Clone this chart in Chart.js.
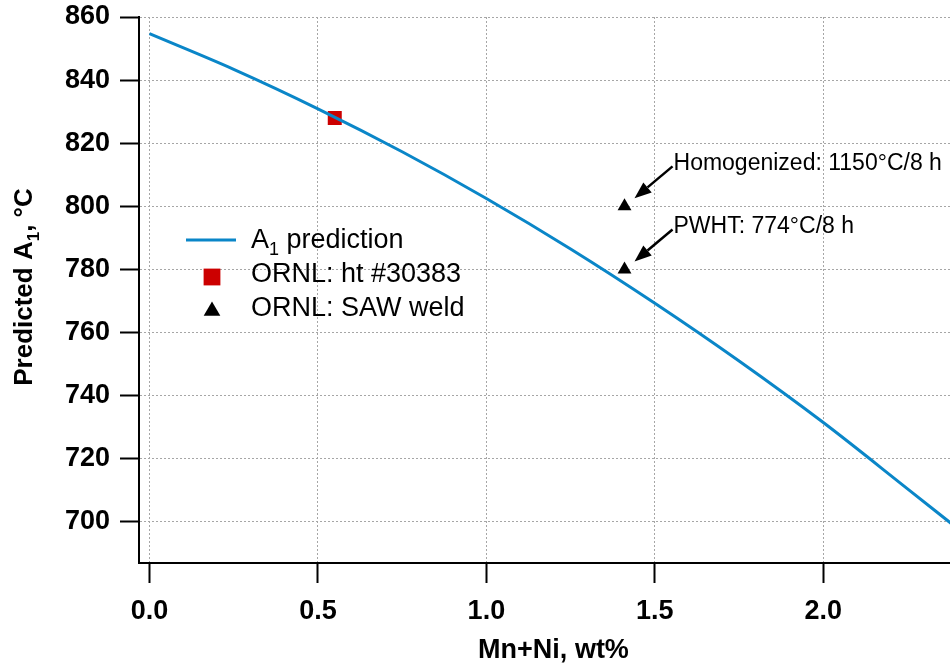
<!DOCTYPE html>
<html>
<head>
<meta charset="utf-8">
<script src="https://cdn.jsdelivr.net/npm/chart.js@4.4.1/dist/chart.umd.min.js"></script>
<style>
    html, body { margin: 0; padding: 0; background: #fff; }
    #wrap { position: relative; width: 950px; height: 667px; }
</style>
</head>
<body>
<div id="wrap"><canvas id="a1Chart"></canvas></div>
<script>
// A1 prediction curve
const CURVE_X = [0, 0.25, 0.5, 0.75, 1.0, 1.25, 1.5, 1.75, 2.0, 2.25, 2.38];
const CURVE_Y = [854.7, 843.4, 830.9, 817.3, 802.5, 786.5, 769.3, 751.0, 731.5, 710.5, 699.5];

// ORNL measurements
const HEAT_X = [0.55];
const HEAT_Y = [828];
const WELD_X = [1.41, 1.41];
const WELD_Y = [800, 780];
const WELD_NOTES = ['Homogenized: 1150°C/8 h', 'PWHT: 774°C/8 h'];

const SERIES_LABELS = ['A_{1} prediction', 'ORNL: ht #30383', 'ORNL: SAW weld'];

const X_TICKS = [0, 0.5, 1.0, 1.5, 2.0];
const Y_TICKS = [700, 720, 740, 760, 780, 800, 820, 840, 860];
const X_RANGE = [-0.031, 2.376];
const Y_RANGE = [687, 860];

const X_TITLE = 'Mn+Ni, wt%';
const Y_TITLE = 'Predicted A_{1}, °C';

const FONT = "'Liberation Sans', Arial, Helvetica, sans-serif";
const BLUE = '#0a86c8';
const RED = '#cc0000';

const toPoints = (xs, ys) => xs.map((x, i) => ({ x, y: ys[i] }));

// split 'A_{1} x' into plain / subscript parts
const richParts = (str) => str.split(/(_\{[^}]*\})/).filter(Boolean)
    .map(s => s.startsWith('_{') ? { t: s.slice(2, -1), sub: true } : { t: s, sub: false });

const richWidth = (ctx, str, size, weight) => {
    let w = 0;
    richParts(str).forEach(p => {
        ctx.font = `${weight} ${p.sub ? Math.round(size * 0.65) : size}px ${FONT}`;
        w += ctx.measureText(p.t).width;
    });
    return w;
};

const drawRich = (ctx, str, x, y, size, weight) => {
    let cx = x;
    ctx.textAlign = 'left';
    ctx.textBaseline = 'alphabetic';
    richParts(str).forEach(p => {
        ctx.font = `${weight} ${p.sub ? Math.round(size * 0.65) : size}px ${FONT}`;
        ctx.fillText(p.t, cx, p.sub ? y + size * 0.27 : y);
        cx += ctx.measureText(p.t).width;
    });
};

const drawMarker = (ctx, style, x, y, r, color) => {
    ctx.fillStyle = color;
    ctx.beginPath();
    if (style === 'rect') {
        const s = r * Math.SQRT1_2;
        ctx.rect(x - s, y - s, 2 * s, 2 * s);
    } else {
        ctx.moveTo(x, y - r);
        ctx.lineTo(x + r * 0.866, y + r * 0.5);
        ctx.lineTo(x - r * 0.866, y + r * 0.5);
        ctx.closePath();
    }
    ctx.fill();
};

// axis titles (with subscript)
const titlesPlugin = {
    id: 'titles',
    afterDraw(chart) {
        const { ctx, chartArea: ca } = chart;
        ctx.save();
        ctx.fillStyle = '#000';
        const xw = richWidth(ctx, X_TITLE, 27, 'bold');
        drawRich(ctx, X_TITLE, (ca.left + ca.right) / 2 + 9 - xw / 2, 658, 27, 'bold');

        const yw = richWidth(ctx, Y_TITLE, 26, 'bold');
        ctx.translate(32, (ca.top + ca.bottom) / 2 - 3);
        ctx.rotate(-Math.PI / 2);
        drawRich(ctx, Y_TITLE, -yw / 2, 0, 26, 'bold');
        ctx.restore();
    }
};

// arrows + notes for the weld points
const notesPlugin = {
    id: 'notes',
    afterDatasetsDraw(chart) {
        const { ctx, scales: { x, y } } = chart;
        ctx.save();
        ctx.fillStyle = '#000';
        ctx.strokeStyle = '#000';
        WELD_NOTES.forEach((note, i) => {
            const px = x.getPixelForValue(WELD_X[i]);
            const py = y.getPixelForValue(WELD_Y[i]);
            const tail = { x: px + 48, y: py - 40 };
            const tip = { x: px + 10, y: py - 8 };
            const ang = Math.atan2(tip.y - tail.y, tip.x - tail.x);
            const len = 17, half = 6.5;
            const bx = tip.x - len * Math.cos(ang), by = tip.y - len * Math.sin(ang);

            ctx.lineWidth = 2.5;
            ctx.beginPath();
            ctx.moveTo(tail.x, tail.y);
            ctx.lineTo(bx, by);
            ctx.stroke();

            ctx.beginPath();
            ctx.moveTo(tip.x, tip.y);
            ctx.lineTo(bx + half * Math.sin(ang), by - half * Math.cos(ang));
            ctx.lineTo(bx - half * Math.sin(ang), by + half * Math.cos(ang));
            ctx.closePath();
            ctx.fill();

            drawRich(ctx, note, px + 49, py - 36, 23, 'normal');
        });
        ctx.restore();
    }
};

// legend inside the plot
const legendPlugin = {
    id: 'insideLegend',
    afterDatasetsDraw(chart) {
        const { ctx, chartArea: ca } = chart;
        const left = ca.left + 47;
        const textX = ca.left + 112;
        const baseline0 = ca.top + 231;
        const rowH = 34;
        ctx.save();
        chart.data.datasets.forEach((ds, i) => {
            const base = baseline0 + i * rowH;
            const cx = left + 26;
            if (ds.showLine) {
                const cy = base - 8;
                ctx.strokeStyle = ds.borderColor;
                ctx.lineWidth = ds.borderWidth;
                ctx.beginPath();
                ctx.moveTo(left, cy);
                ctx.lineTo(left + 50, cy);
                ctx.stroke();
            } else {
                drawMarker(ctx, ds.pointStyle, cx, base - 5, ds.pointRadius * 1.2, ds.backgroundColor);
            }
            ctx.fillStyle = '#000';
            drawRich(ctx, ds.label, textX, base, 27, 'normal');
        });
        ctx.restore();
    }
};

const tickFont = { family: FONT, size: 27, weight: 'bold' };

new Chart(document.getElementById('a1Chart'), {
    type: 'scatter',
    data: {
        datasets: [{
            label: SERIES_LABELS[0],
            data: toPoints(CURVE_X, CURVE_Y),
            showLine: true,
            borderColor: BLUE,
            backgroundColor: BLUE,
            borderWidth: 3,
            pointRadius: 0,
            cubicInterpolationMode: 'monotone'
        }, {
            label: SERIES_LABELS[1],
            data: toPoints(HEAT_X, HEAT_Y),
            pointStyle: 'rect',
            pointRadius: 9.9,
            backgroundColor: RED,
            borderWidth: 0
        }, {
            label: SERIES_LABELS[2],
            data: toPoints(WELD_X, WELD_Y),
            pointStyle: 'triangle',
            pointRadius: 8,
            backgroundColor: '#000',
            borderWidth: 0
        }]
    },
    options: {
        responsive: true,
        maintainAspectRatio: false,
        animation: false,
        layout: { autoPadding: false, padding: { top: 17, right: 0, left: 0, bottom: 0 } },
        plugins: {
            legend: { display: false },
            tooltip: { enabled: false }
        },
        scales: {
            x: {
                type: 'linear',
                min: X_RANGE[0],
                max: X_RANGE[1],
                afterBuildTicks: s => { s.ticks = X_TICKS.map(v => ({ value: v })); },
                afterFit: s => { s.height = 104; s.paddingLeft = 0; s.paddingRight = 0; },
                grid: { color: '#a6a6a6', lineWidth: 1, tickColor: '#000', tickLength: 20, tickWidth: 2, tickBorderDash: [] },
                border: { display: true, color: '#000', width: 2, dash: [2, 2] },
                ticks: { color: '#000', font: tickFont, padding: 12, maxRotation: 0, callback: v => v.toFixed(1) }
            },
            y: {
                type: 'linear',
                min: Y_RANGE[0],
                max: Y_RANGE[1],
                afterBuildTicks: s => { s.ticks = Y_TICKS.map(v => ({ value: v })); },
                afterFit: s => { s.width = 139; s.paddingTop = 0; s.paddingBottom = 0; },
                grid: { color: '#a6a6a6', lineWidth: 1, tickColor: '#000', tickLength: 19, tickWidth: 2, tickBorderDash: [] },
                border: { display: true, color: '#000', width: 2, dash: [2, 2] },
                ticks: { color: '#000', font: tickFont, padding: 10, callback: v => String(v) }
            }
        }
    },
    plugins: [titlesPlugin, notesPlugin, legendPlugin]
});
</script>
</body>
</html>
